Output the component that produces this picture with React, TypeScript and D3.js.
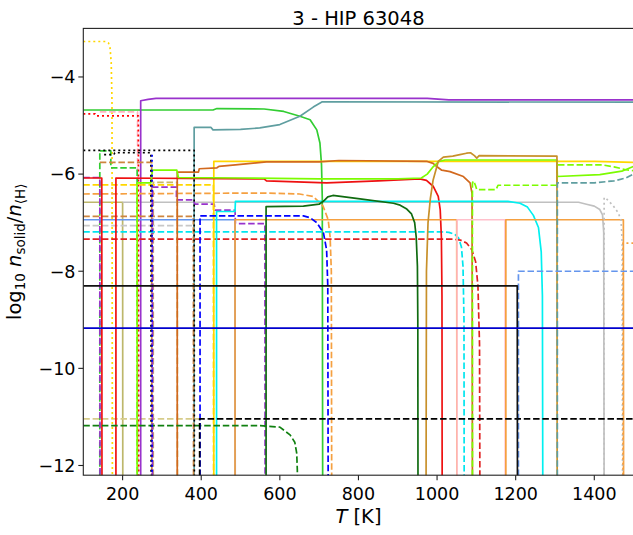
import React from "react";
import * as d3 from "d3";

// log10 of a vanished solid: falls below the axis
const OUT = -14;

type Pt = [number, number];

// [T in K, log10 n_solid / n_<H>]
const goldDotted: Pt[] = [[100, -3.27], [158, -3.27], [164, -3.3], [168, -3.4], [171, -3.7], [173, -4.5], [174, OUT]];
const limeSolid: Pt[] = [[100, -4.68], [430, -4.68], [440, -4.65], [560, -4.66], [610, -4.71], [651, -4.81], [677, -4.88], [694, -5.09], [702, -5.36], [706, -5.8], [708, -6.5], [709, OUT]];
const purpleSolid: Pt[] = [[246, OUT], [246, -4.49], [265, -4.46], [285, -4.44], [975, -4.44], [1030, -4.47], [1500, -4.47]];
const tealSolid: Pt[] = [[382, OUT], [382, -5.04], [425, -5.04], [430, -5.09], [500, -5.08], [549, -5.05], [600, -4.98], [651, -4.81], [685, -4.62], [708, -4.51], [1500, -4.52]];
const redDotted: Pt[] = [[100, -4.76], [130, -4.76], [132, -4.8], [240, -4.8], [241, OUT]];
const pinkDashed: Pt[] = [[142, -4.72], [238, -4.72], [239, OUT]];
const blackDottedA: Pt[] = [[100, -5.51], [382, -5.51], [382.5, OUT]];
const blackDottedB: Pt[] = [[153, -5.6], [178, -5.6], [180, -5.56], [272, -5.56], [272.5, OUT]];
const blueDotted: Pt[] = [[275, -5.6], [275, OUT]];
const limeDashed: Pt[] = [[142, OUT], [142, -5.52], [170, -5.52], [170, -5.87], [237, -5.87], [237.5, OUT]];
const peruDashedA: Pt[] = [[142, -5.76], [274, -5.76], [274.5, OUT]];
const khakiDashedB: Pt[] = [[278, OUT], [278, -6.17], [339, -6.17], [339.5, OUT]];
const chocolateSolid: Pt[] = [[339, OUT], [339, -5.96], [393, -5.96], [395, -5.89], [440, -5.87], [445, -5.84], [487, -5.81], [540, -5.77], [566, -5.75], [700, -5.75], [750, -5.72], [975, -5.74], [990, -5.78], [1000, -5.85], [1012, -5.92], [1033, -5.95], [1067, -6.05], [1084, -6.18], [1089, -6.4], [1090, OUT]];
const goldSolid: Pt[] = [[432, OUT], [432, -5.74], [1400, -5.74], [1500, -5.76]];
const chartreuseSolid: Pt[] = [[237, OUT], [237, -6.18], [272, -6.18], [276, -5.92], [338, -5.92], [342, -6.07], [500, -6.08], [700, -6.1], [900, -6.1], [960, -6.08], [975, -6.0], [990, -5.85], [1005, -5.74], [1020, -5.71], [1305, -5.71], [1306, -6.05], [1414, -6.01], [1470, -5.94], [1500, -5.84]];
const chartreuseDashed: Pt[] = [[1090, OUT], [1090, -6.18], [1093, -6.14], [1098, -6.24], [1101, -6.32], [1150, -6.32], [1155, -6.23], [1305, -6.23], [1305, -5.81], [1420, -5.81], [1450, -5.85], [1480, -5.91], [1500, -5.93]];
const redSolidA: Pt[] = [[100, -6.08], [147, -6.08], [147.5, OUT]];
const redSolidB: Pt[] = [[183, OUT], [183, -6.08], [560, -6.1], [566, -6.14], [719, -6.18], [850, -6.14], [956, -6.1], [973, -6.13], [990, -6.25], [1003, -6.46], [1008, -6.73], [1011, -7.3], [1012.5, -8.5], [1013, OUT]];
const purpleDashedA: Pt[] = [[100, -6.07], [142, -6.07], [142.5, OUT]];
const purpleDashedB: Pt[] = [[276, OUT], [276, -6.27], [337, -6.27], [337, -6.53], [380, -6.53], [384, -6.62], [433, -6.62], [435, -6.74], [486, -6.74], [487, -7.02], [562, -7.02], [562.5, OUT]];
const goldDashed: Pt[] = [[100, -6.22], [431, -6.22], [431.5, OUT]];
const orangeDashed: Pt[] = [[100, -6.41], [560, -6.39], [650, -6.41], [685, -6.46], [710, -6.66], [723, -6.94], [728, -7.3], [731, -8.0], [732, OUT]];
const khakiSolid: Pt[] = [[100, -6.58], [200, -6.58], [200.5, OUT]];
const silverSolid: Pt[] = [[200, -6.58], [1360, -6.58], [1380, -6.62], [1400, -6.66], [1414, -6.73], [1421, -6.84], [1424, -7.2], [1425, OUT]];
const cornflowerSolid: Pt[] = [[100, -6.94], [486, -6.94], [486.5, OUT]];
const peruDashedB: Pt[] = [[100, -6.87], [380, -6.87], [380.5, OUT]];
const silverDashed: Pt[] = [[100, -7.06], [380, -7.06]];
const cyanDashed: Pt[] = [[100, -7.19], [1010, -7.19], [1030, -7.2], [1045, -7.24], [1055, -7.32], [1062, -7.5], [1066, -7.9], [1068.5, -9], [1069, OUT]];
const redDashed: Pt[] = [[100, -7.34], [1040, -7.34], [1060, -7.36], [1075, -7.42], [1088, -7.55], [1098, -7.8], [1104, -8.3], [1108, -9.5], [1109, OUT]];
const blackSolid: Pt[] = [[100, -8.3], [1204, -8.3], [1204.5, OUT]];
const blueSolid: Pt[] = [[100, -9.17], [1500, -9.17]];
const khakiDashed: Pt[] = [[100, -11.04], [395, -11.04]];
const blackDashed: Pt[] = [[396, OUT], [396, -11.04], [1500, -11.04]];
const greenDashed: Pt[] = [[100, -11.18], [550, -11.18], [600, -11.21], [626, -11.37], [638, -11.52], [643, -11.75], [644.5, -12.1], [645, OUT]];
const darkGreenSolid: Pt[] = [[565, OUT], [565, -6.67], [660, -6.66], [700, -6.62], [712, -6.55], [722, -6.47], [735, -6.44], [804, -6.51], [889, -6.6], [906, -6.64], [923, -6.72], [935, -6.82], [943, -7.0], [947, -7.3], [950, -7.9], [951, -9], [951.5, OUT]];
const cyanSolid: Pt[] = [[439, OUT], [439, -6.77], [486, -6.77], [487, -6.56], [1180, -6.56], [1211, -6.6], [1230, -6.68], [1245, -6.85], [1258, -7.1], [1265, -7.6], [1268, -8.5], [1269, OUT]];
const orangeSolidA: Pt[] = [[486, OUT], [486, -6.94], [1050, -6.94], [1050.5, OUT]];
const orangeSolidB: Pt[] = [[1175, OUT], [1175, -6.94], [1474, -6.94], [1474.5, OUT]];
const pinkSolid: Pt[] = [[1051, OUT], [1051, -6.94], [1173, -6.94], [1173.5, OUT]];
const goldenrodSolid: Pt[] = [[972, OUT], [973, -8], [977, -7], [983, -6.5], [990, -6.12], [1003, -5.74], [1016, -5.65], [1040, -5.63], [1058, -5.6], [1075, -5.57], [1085, -5.56], [1095, -5.62], [1101, -5.67], [1107, -5.62], [1305, -5.63], [1305.5, OUT]];
const tealDashed: Pt[] = [[1306, OUT], [1306, -6.18], [1400, -6.18], [1450, -6.14], [1480, -6.08], [1500, -6.0]];
const cornflowerDashed: Pt[] = [[1207, OUT], [1207, -8.0], [1500, -8.0]];
const silverDotted: Pt[] = [[1425, OUT], [1425, -6.48], [1430, -6.5], [1448, -6.65], [1461, -6.8], [1468, -6.95], [1471, -7.4], [1472, OUT]];
const orangeDotted: Pt[] = [[1473, OUT], [1473, -7.42], [1500, -7.42]];
const blueDashed: Pt[] = [[397, OUT], [397, -6.86], [600, -6.86], [660, -6.86], [677, -6.9], [694, -7.0], [711, -7.21], [719, -7.56], [722, -8.3], [723, OUT]];

const xTicks = [200, 400, 600, 800, 1000, 1200, 1400];
const yTicks = [-4, -6, -8, -10, -12];

const series: { data: Pt[]; color: string; kind: "solid" | "dashed" | "dotted" }[] = [
  { data: khakiSolid, color: "#bdb76b", kind: "solid" },
  { data: silverSolid, color: "#c0c0c0", kind: "solid" },
  { data: silverDashed, color: "#c8c8c8", kind: "dashed" },
  { data: khakiDashed, color: "#d6cc8a", kind: "dashed" },
  { data: khakiDashedB, color: "#c8b866", kind: "dashed" },
  { data: goldDotted, color: "#ffd700", kind: "dotted" },
  { data: limeSolid, color: "#32cd32", kind: "solid" },
  { data: tealSolid, color: "#5f9ea0", kind: "solid" },
  { data: purpleSolid, color: "#9932cc", kind: "solid" },
  { data: pinkDashed, color: "#ffb6c1", kind: "dashed" },
  { data: redDotted, color: "#ff0000", kind: "dotted" },
  { data: limeDashed, color: "#32cd32", kind: "dashed" },
  { data: peruDashedA, color: "#cd853f", kind: "dashed" },
  { data: peruDashedB, color: "#cd853f", kind: "dashed" },
  { data: goldDashed, color: "#ffd700", kind: "dashed" },
  { data: orangeDashed, color: "#f5a040", kind: "dashed" },
  { data: purpleDashedA, color: "#9932cc", kind: "dashed" },
  { data: purpleDashedB, color: "#9932cc", kind: "dashed" },
  { data: cornflowerSolid, color: "#6495ed", kind: "solid" },
  { data: cyanDashed, color: "#00e5ee", kind: "dashed" },
  { data: redDashed, color: "#e02020", kind: "dashed" },
  { data: goldSolid, color: "#ffd700", kind: "solid" },
  { data: chocolateSolid, color: "#d2691e", kind: "solid" },
  { data: redSolidA, color: "#ee1111", kind: "solid" },
  { data: redSolidB, color: "#ee1111", kind: "solid" },
  { data: chartreuseSolid, color: "#7cfc00", kind: "solid" },
  { data: chartreuseDashed, color: "#7cfc00", kind: "dashed" },
  { data: cyanSolid, color: "#00f0f0", kind: "solid" },
  { data: orangeSolidA, color: "#f5a040", kind: "solid" },
  { data: pinkSolid, color: "#ffc0cb", kind: "solid" },
  { data: orangeSolidB, color: "#f5a040", kind: "solid" },
  { data: goldenrodSolid, color: "#c8902a", kind: "solid" },
  { data: darkGreenSolid, color: "#106b10", kind: "solid" },
  { data: greenDashed, color: "#108010", kind: "dashed" },
  { data: blueDashed, color: "#0000ff", kind: "dashed" },
  { data: blackDottedA, color: "#000000", kind: "dotted" },
  { data: blackDottedB, color: "#000000", kind: "dotted" },
  { data: blueDotted, color: "#0000ff", kind: "dotted" },
  { data: tealDashed, color: "#5f9ea0", kind: "dashed" },
  { data: cornflowerDashed, color: "#6495ed", kind: "dashed" },
  { data: silverDotted, color: "#c0c0c0", kind: "dotted" },
  { data: orangeDotted, color: "#f5a040", kind: "dotted" },
  { data: blackDashed, color: "#000000", kind: "dashed" },
  { data: blackSolid, color: "#111111", kind: "solid" },
  { data: blueSolid, color: "#0000cd", kind: "solid" },
];

const dashes = { solid: undefined, dashed: "6.5,2.8", dotted: "2,3" };

export default function App() {
  const W = 633, H = 535;
  const left = 83.3, right = 633.6, top = 28.4, bottom = 475.2;
  const x = d3.scaleLinear().domain([100, 1500]).range([left, right]);
  const y = d3.scaleLinear().domain([-12.2, -3]).range([bottom, top]);
  const line = d3.line<Pt>().x(d => x(d[0])).y(d => y(Math.max(d[1], -12.6)));
  const font = "DejaVu Sans, sans-serif";
  const cx = (left + right) / 2;
  const cy = (top + bottom) / 2;

  return (
    <svg width={W} height={H} style={{ position: "absolute", left: 0, top: 0, background: "#fff" }} fontFamily={font}>
      <defs>
        <clipPath id="plot">
          <rect x={left} y={top} width={right - left} height={bottom - top} />
        </clipPath>
      </defs>
      <g clipPath="url(#plot)">
        {series.map((s, i) => (
          <path key={i} d={line(s.data) || ""} fill="none" stroke={s.color} strokeWidth={1.7}
            strokeDasharray={dashes[s.kind]} strokeLinejoin="round" />
        ))}
      </g>
      <rect x={left} y={top} width={right - left} height={bottom - top} fill="none" stroke="#222" strokeWidth={1.1} />
      {xTicks.map(t => (
        <g key={t}>
          <line x1={x(t)} x2={x(t)} y1={bottom} y2={bottom + 5} stroke="#222" strokeWidth={1.1} />
          <text x={x(t)} y={bottom + 24.8} fontSize={17.5} textAnchor="middle">{t}</text>
        </g>
      ))}
      {yTicks.map(t => (
        <g key={t}>
          <line x1={left - 5} x2={left} y1={y(t)} y2={y(t)} stroke="#222" strokeWidth={1.1} />
          <text x={75.5} y={y(t) + 6.3} fontSize={17.5} textAnchor="end">{"\u2212" + Math.abs(t)}</text>
        </g>
      ))}
      <text x={cx} y={24.5} fontSize={19.5} textAnchor="middle">3 - HIP 63048</text>
      <text x={cx} y={523} fontSize={19.5} textAnchor="middle">
        <tspan fontStyle="italic">T</tspan> [K]
      </text>
      <text transform={`translate(21,${cy}) rotate(-90)`} fontSize={19.5} textAnchor="middle">
        log<tspan dy={4} fontSize={13.5}>10</tspan>
        <tspan dy={-4}> </tspan>
        <tspan fontStyle="italic">n</tspan>
        <tspan dy={4} fontSize={13.5}>solid</tspan>
        <tspan dy={-4}>/</tspan>
        <tspan fontStyle="italic">n</tspan>
        <tspan dy={4} fontSize={13.5}>⟨H⟩</tspan>
      </text>
    </svg>
  );
}
